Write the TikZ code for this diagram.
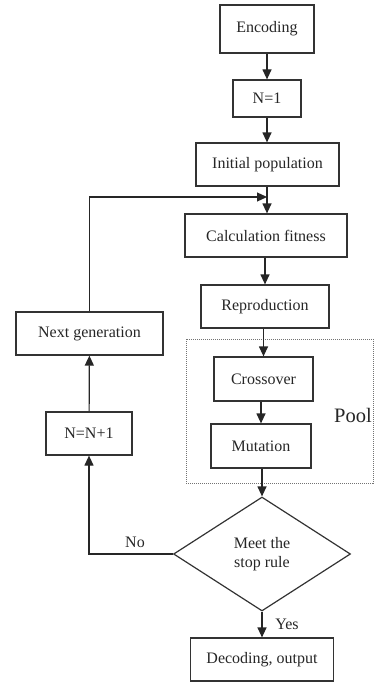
\documentclass[tikz,border=0pt]{standalone}
\usepackage{fontspec}
\setmainfont{Liberation Serif}
\usetikzlibrary{arrows.meta,shapes.geometric}
\begin{document}
\begin{tikzpicture}[x=1pt,y=-1pt,every node/.style={font=\fontsize{16}{19}\selectfont,text=black!85},
  blk/.style={draw=black!80,line width=1.2pt,inner sep=0pt,align=center},
  arr/.style={draw=black!85,line width=1.2pt,-{Triangle[length=10pt,width=9pt]}}]
\useasboundingbox (0,0) rectangle (374,682);
\draw[black!55,line width=.7pt,dash pattern=on 1pt off 1pt] (186,339) rectangle (373,483);
\node (pool) at (353,415) {\fontsize{20.5}{24}\selectfont Pool};
\node[blk,minimum width=94pt,minimum height=48pt] (enc) at (267,29) {Encoding};
\node[blk,minimum width=68pt,minimum height=37pt] (n1) at (267,98.5) {N=1};
\node[blk,minimum width=143pt,minimum height=43pt] (init) at (267.5,164.5) {Initial population};
\node[blk,minimum width=162pt,minimum height=43pt] (calc) at (266,235.5) {Calculation fitness};
\node[blk,minimum width=128pt,minimum height=43pt] (repro) at (265,306.5) {Reproduction};
\node[blk,minimum width=99pt,minimum height=44pt] (cross) at (263.5,379) {Crossover};
\node[blk,minimum width=100pt,minimum height=44pt] (mut) at (261,446) {Mutation};
\node[blk,diamond,aspect=1.55,minimum width=177pt,minimum height=114pt] (stop) at (262,554) {Meet the\\stop rule};
\node[blk,minimum width=143pt,minimum height=43pt] (dec) at (262,659.5) {Decoding, output};
\node[blk,minimum width=147pt,minimum height=43pt] (next) at (89.5,333.5) {Next generation};
\node[blk,minimum width=86pt,minimum height=43pt] (nn) at (89,433.5) {N=N+1};
\node (nolbl) at (135,542) {No};
\node (yeslbl) at (287,624) {Yes};
\coordinate (join) at (267,197);
\draw[arr](enc)--(n1);
\draw[arr](n1)--(n1|-init.north);
\draw[arr](init.south-|join)--(join|-calc.north);
\draw[arr](next.north)|-(join);
\draw[arr](calc.south-|repro)--(repro.north);
\draw[arr](repro.south-|cross)--(cross.north);
\draw[arr](cross.south-|mut)--(mut.north);
\draw[arr](mut.south-|stop)--(stop.north);
\draw[arr](stop)--(dec);
\draw[arr](stop.west)-|(nn.south);
\draw[arr](nn)--(next);
\end{tikzpicture}
\end{document}
